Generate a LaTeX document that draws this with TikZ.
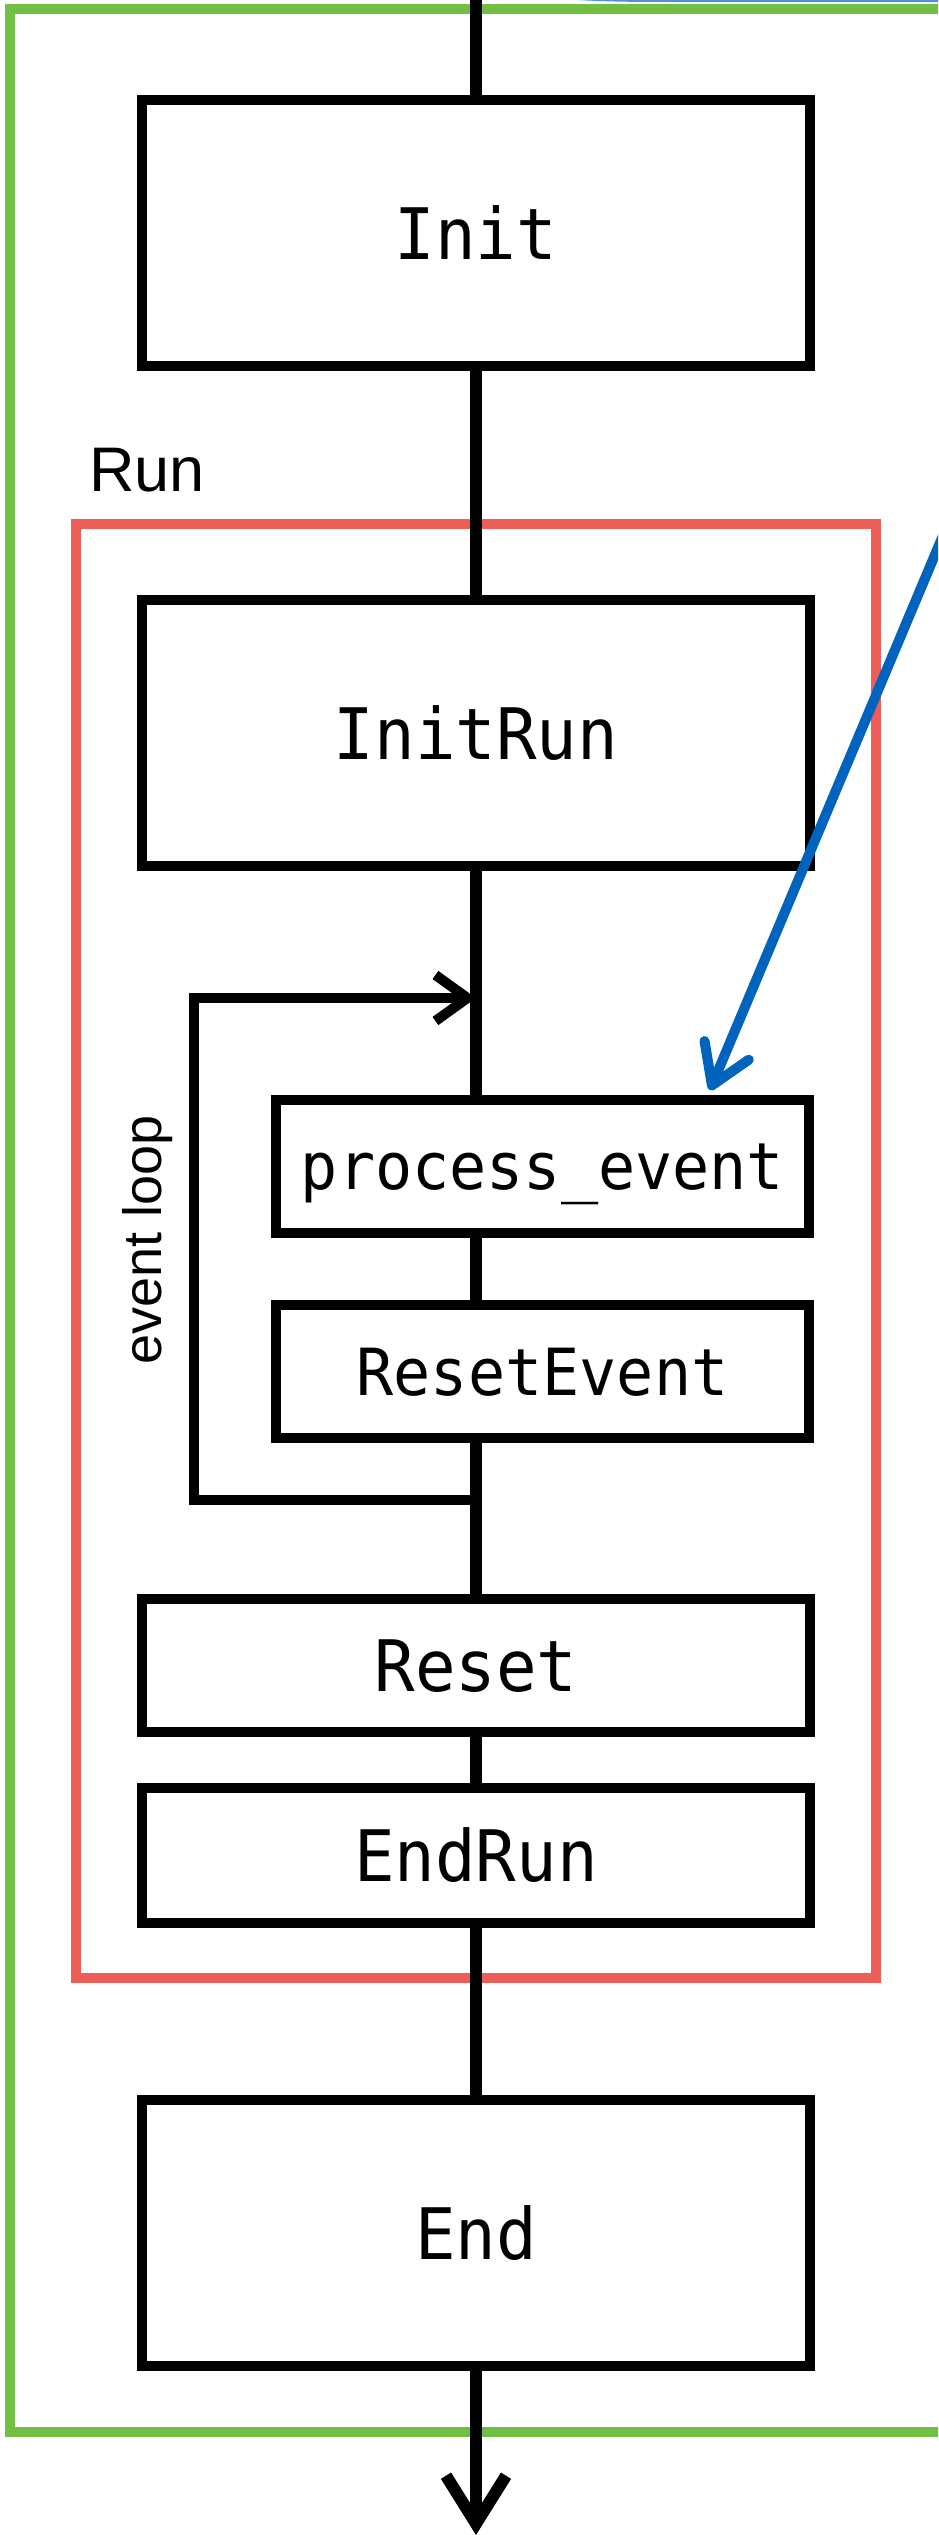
\documentclass[tikz,border=0pt]{standalone}
\usepackage{fontspec}
\setmainfont{Liberation Sans}
\newfontfamily\boxfont{DejaVu Sans Mono}[FakeStretch=0.95]
\usetikzlibrary{arrows.meta}

\definecolor{framegreen}{RGB}{114,191,68}
\definecolor{runred}{RGB}{236,95,89}
\definecolor{noteblue}{RGB}{0,99,190}
\definecolor{noteblueedge}{RGB}{80,145,212}

\tikzset{
  stage/.style={draw=black, line width=10pt, inner sep=0pt, fill=white,
    minimum width=668pt},
  bigstage/.style={stage, minimum height=266pt,
    font=\boxfont\fontsize{71}{80}\selectfont, text height=52pt, text depth=0pt},
  smallstage/.style={stage, minimum height=133pt,
    font=\boxfont\fontsize{71}{80}\selectfont, text height=52pt, text depth=0pt},
  substage/.style={stage, minimum width=533pt, minimum height=133pt,
    font=\boxfont\fontsize{65}{74}\selectfont, text height=47pt, text depth=0pt},
  flow/.style={draw=black, line width=12pt},
  loopline/.style={draw=black, line width=10pt},
  frame/.style={line width=10pt},
}

\begin{document}
\begin{tikzpicture}[x=1pt, y=-1pt]
  \useasboundingbox (0,0) rectangle (938,2535);
  \clip (0,0) rectangle (938,2535);
  \fill[white] (0,0) rectangle (938,2535);

  % outer frame and the Run group
  \draw[frame, draw=framegreen] (10,9) rectangle (943.5,2432);
  \draw[frame, draw=runred] (76,524) rectangle (876,1978);
  \node[anchor=base west, font=\fontsize{63}{70}\selectfont, inner sep=0pt] (runlabel) at (89,491) {Run};

  % fixed points of the main flow
  \coordinate (entry) at (476,-10);
  \coordinate (exit) at (476,2535);
  \coordinate (loopbottom) at (476,1500);
  \coordinate (looptop) at (476,998);
  \coordinate (loopcorner) at (194,998);

  % flow line behind the stages
  \draw[flow] (entry) -- (476,100);
  \draw[flow] (476,366) -- (476,600);
  \draw[flow] (476,866) -- (476,1100);
  \draw[flow] (476,1232) -- (476,1305);
  \draw[flow] (476,1438) -- (476,1599);
  \draw[flow] (476,1732) -- (476,1788);
  \draw[flow] (476,1923) -- (476,2100);
  \draw[flow, -{Straight Barb[length=48pt, width=60pt]}] (476,2366) -- (exit);

  % stages
  \node[bigstage] (init) at (476,233) {Init};
  \node[bigstage] (initrun) at (476,733) {InitRun};
  \node[substage] (procev) at (542.5,1166) {process\_event};
  \node[substage] (resetev) at (542.5,1371.5) {ResetEvent};
  \node[smallstage] (reset) at (476,1665.5) {Reset};
  \node[smallstage, minimum height=135pt] (endrun) at (476,1855.5) {EndRun};
  \node[bigstage] (endstage) at (476,2233) {End};

  % event loop
  \draw[loopline, -{Straight Barb[length=32pt, width=46pt]}]
    (loopbottom) -| (loopcorner) -- (looptop);
  \node[rotate=90, font=\fontsize{54}{60}\selectfont, inner sep=0pt] (looplabel) at (148,1240) {event loop};

  % annotation arrow pointing at process_event
  \coordinate (notestart) at (1000,400);
  \coordinate (notetip) at (710,1090);
  \draw[noteblue, line width=10pt, -{Straight Barb[length=38pt, width=48pt, round]}]
    (notestart) -- (notetip);
  \draw[noteblueedge, line width=10pt] (540,-8) .. controls (590,-3) and (630,-3) .. (680,-3) -- (950,-3);
\end{tikzpicture}
\end{document}
